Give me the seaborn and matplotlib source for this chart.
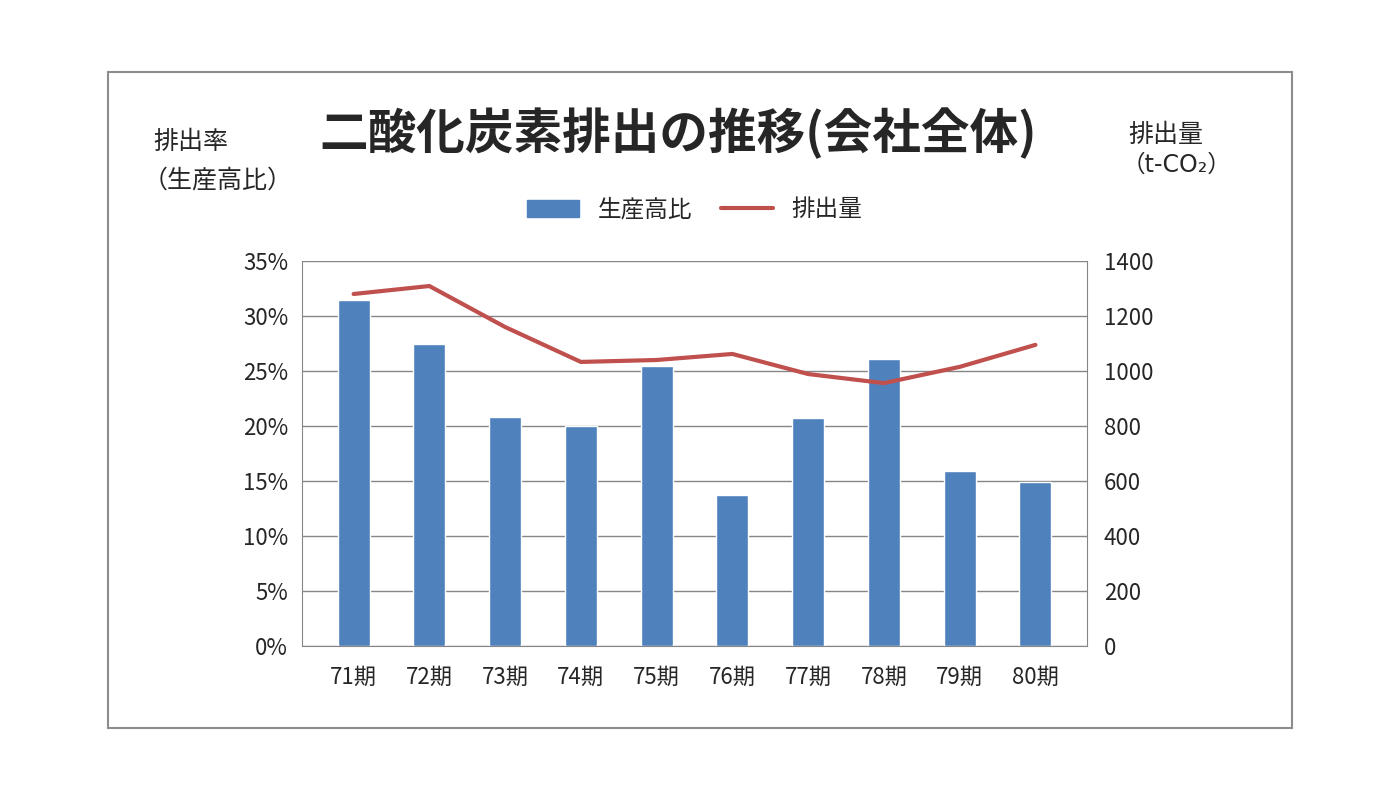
import matplotlib.pyplot as plt
import matplotlib.patches as mpatches
import seaborn as sns
import pandas as pd

# データ
periods = ['71期', '72期', '73期', '74期', '75期', '76期', '77期', '78期', '79期', '80期']
rate = [31.5, 27.5, 20.8, 20.0, 25.5, 13.7, 20.7, 26.1, 15.9, 14.9]
emission = [1280, 1309, 1160, 1033, 1040, 1062, 989, 956, 1015, 1095]

sns.set_style('white')
plt.rcParams['font.family'] = ['Noto Sans CJK JP', 'DejaVu Sans']

df = pd.DataFrame({'period': periods, 'rate': rate, 'emission': emission})

fig = plt.figure(figsize=(14, 8), dpi=100)
fig.patches.append(mpatches.Rectangle((108/1400, 1-728/800), 1184/1400, 656/800,
                   transform=fig.transFigure, fill=False, edgecolor='#8c8c8c', linewidth=1.5))

ax = fig.add_axes([302/1400, 1-646/800, 785/1400, 385/800])
sns.barplot(data=df, x='period', y='rate', color='#4f81bd', saturation=1, width=0.42, ax=ax)
ax.set_ylim(0, 35)
ax.set_yticks(range(0, 36, 5))
ax.set_yticklabels([f'{v}%' for v in range(0, 36, 5)])
ax.yaxis.grid(True, color='#868686', linewidth=1)
ax.set_axisbelow(True)
ax.set_xlabel('')
ax.set_ylabel('')
for s in ['top', 'right']:
    ax.spines[s].set_visible(False)
for s in ['left', 'bottom']:
    ax.spines[s].set_color('#868686')
ax.tick_params(axis='both', labelsize=16, length=0, pad=10)
ax.tick_params(axis='x', pad=14)

ax2 = ax.twinx()
sns.lineplot(x=list(range(len(periods))), y=emission, color='#c0504d', linewidth=3, ax=ax2)
ax2.set_ylim(0, 1400)
ax2.set_yticks(range(0, 1401, 200))
ax2.tick_params(axis='y', labelsize=16, length=0, pad=12)
for s in ['top', 'left', 'bottom']:
    ax2.spines[s].set_visible(False)
ax2.spines['right'].set_color('#868686')

fig.text(678/1400, 1-133/800, '二酸化炭素排出の推移(会社全体)', ha='center', va='center',
         fontsize=35, fontweight='bold')
fig.text(153/1400, 1-142/800, '排出率', fontsize=18, va='center')
fig.text(143/1400, 1-180/800, '（生産高比）', fontsize=18, va='center')
fig.text(1128/1400, 1-135/800, '排出量', fontsize=18, va='center')
fig.text(1122/1400, 1-165/800, '（t-CO₂）', fontsize=17, va='center',
         family=['DejaVu Sans', 'Noto Sans CJK JP'])

handles = [mpatches.Patch(color='#4f81bd', label='生産高比'),
           plt.Line2D([], [], color='#c0504d', linewidth=3, label='排出量')]
fig.legend(handles=handles, loc='center', bbox_to_anchor=(695/1400, 1-210/800), ncol=2,
           frameon=False, fontsize=17, handlelength=2.2, columnspacing=1.2)

fig.savefig('out.png', dpi=100)
